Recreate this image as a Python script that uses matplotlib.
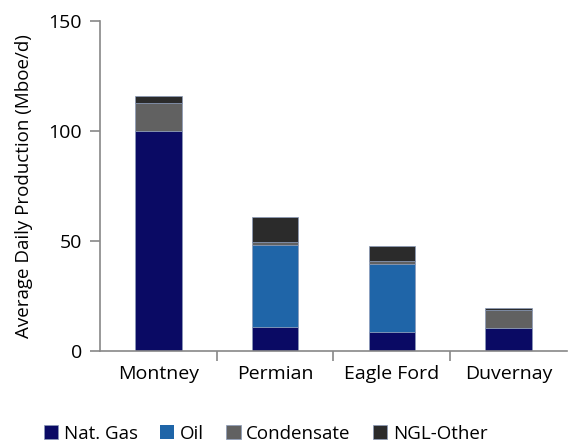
import numpy as np
import matplotlib
matplotlib.use('Agg')
import matplotlib.pyplot as plt

plays = ['Montney', 'Permian', 'Eagle Ford', 'Duvernay']
nat_gas = [100.0, 10.6, 8.5, 10.3]
oil = [0.0, 37.6, 30.9, 0.0]
condensate = [12.7, 1.2, 1.4, 8.3]
ngl_other = [3.0, 11.2, 6.9, 0.9]

series = [('Nat. Gas', nat_gas, '#0a0a64'),
          ('Oil', oil, '#1f65a8'),
          ('Condensate', condensate, '#616161'),
          ('NGL-Other', ngl_other, '#2b2b2b')]

plt.rcParams['font.family'] = ['Open Sans', 'DejaVu Sans']
fig = plt.figure(figsize=(5.73, 4.42), dpi=100)
ax = fig.add_axes([0.1745, 0.2066, 0.815, 0.746])

x = np.arange(len(plays))
bottom = np.zeros(len(plays))
for name, vals, color in series:
    vals = np.array(vals)
    edges = ['#8a9ab8' if v > 0 else 'none' for v in vals]
    ax.bar(x, vals, 0.4, bottom=bottom, color=color, label=name,
           edgecolor=edges, linewidth=0.5)
    bottom += vals

ax.set_xlim(-0.5, len(plays) - 0.5)
ax.set_ylim(0, 150)
ax.set_yticks([0, 50, 100, 150])
ax.set_xticks(x)
ax.set_xticklabels(plays, fontsize=14)
ax.set_xticks(np.arange(0.5, len(plays) - 0.5, 1), minor=True)
ax.tick_params(axis='x', which='major', length=0, pad=10)
ax.tick_params(axis='x', which='minor', length=7, width=1.2, color='#888888')
ax.tick_params(axis='y', length=7, width=1.2, color='#888888', labelsize=14, pad=6)
for s in ['top', 'right']:
    ax.spines[s].set_visible(False)
for s in ['left', 'bottom']:
    ax.spines[s].set_color('#888888')
    ax.spines[s].set_linewidth(1.2)
ax.set_ylabel('Average Daily Production (Mboe/d)', fontsize=13.5, labelpad=11)

leg = ax.legend(loc='lower center', bbox_to_anchor=(0.355, -0.33), ncol=4, frameon=False,
                fontsize=13.5, handlelength=0.75, handleheight=0.75, handletextpad=0.3,
                columnspacing=1.2)

fig.savefig('out.png', dpi=100)
